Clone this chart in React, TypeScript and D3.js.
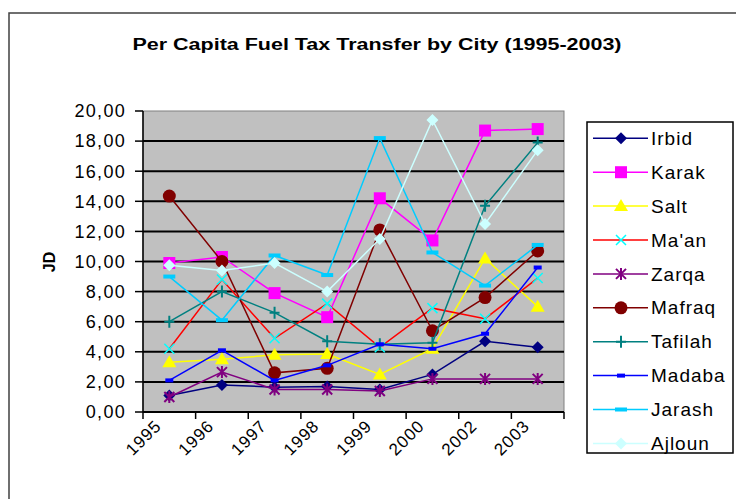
import React from "react";
import * as d3 from "d3";

const years = ["1995", "1996", "1997", "1998", "1999", "2000", "2002", "2003"];
const yTicks = [0, 2, 4, 6, 8, 10, 12, 14, 16, 18, 20];

const irbid = [1.1, 1.8, 1.65, 1.7, 1.5, 2.5, 4.7, 4.3];
const karak = [9.9, 10.3, 7.9, 6.3, 14.2, 11.4, 18.7, 18.8];
const salt = [3.3, 3.5, 3.8, 3.85, 2.5, 4.2, 10.2, 7.0];
const maan = [4.2, 8.8, 4.9, 7.2, 4.3, 6.9, 6.2, 8.9];
const zarqa = [1.0, 2.65, 1.5, 1.5, 1.4, 2.2, 2.2, 2.2];
const mafraq = [14.35, 10.0, 2.6, 2.9, 12.1, 5.4, 7.6, 10.7];
const tafilah = [6.0, 8.0, 6.6, 4.7, 4.5, 4.6, 13.7, 17.9];
const madaba = [2.1, 4.1, 2.1, 3.1, 4.5, 4.2, 5.2, 9.6];
const jarash = [9.0, 6.1, 10.4, 9.1, 18.2, 10.6, 8.4, 11.1];
const ajloun = [9.75, 9.4, 9.9, 8.0, 11.5, 19.4, 12.5, 17.4];

const names = ["Irbid", "Karak", "Salt", "Ma'an", "Zarqa", "Mafraq", "Tafilah", "Madaba", "Jarash", "Ajloun"];
const lineColors = ["#000080", "#ff00ff", "#ffff00", "#ff0000", "#800080", "#800000", "#008080", "#0000ff", "#00ccff", "#ccffff"];
const markerColors = ["#000080", "#ff00ff", "#ffff00", "#00ffff", "#800080", "#800000", "#008080", "#0000ff", "#00ccff", "#ccffff"];
const markerTypes = ["diamond", "square", "triangle", "x", "star", "circle", "plus", "dash", "bar", "diamond"];
const seriesValues = [irbid, karak, salt, maan, zarqa, mafraq, tafilah, madaba, jarash, ajloun];

const FONT = "'Liberation Sans', Arial, sans-serif";

function Marker({ type, x, y, color }: { type: string; x: number; y: number; color: string }) {
  switch (type) {
    case "diamond":
      return <path d={`M${x},${y - 6}L${x + 6},${y}L${x},${y + 6}L${x - 6},${y}Z`} fill={color} />;
    case "square":
      return <rect x={x - 6} y={y - 6} width={12} height={12} fill={color} />;
    case "triangle":
      return <path d={`M${x},${y - 7}L${x + 7},${y + 5}L${x - 7},${y + 5}Z`} fill={color} />;
    case "x":
      return (
        <path d={`M${x - 5},${y - 5}L${x + 5},${y + 5}M${x + 5},${y - 5}L${x - 5},${y + 5}`} stroke={color} strokeWidth={1.5} />
      );
    case "star":
      return (
        <path
          d={`M${x - 5},${y - 5}L${x + 5},${y + 5}M${x + 5},${y - 5}L${x - 5},${y + 5}M${x},${y - 6}L${x},${y + 6}`}
          stroke={color}
          strokeWidth={2}
        />
      );
    case "circle":
      return <circle cx={x} cy={y} r={6.5} fill={color} />;
    case "plus":
      return <path d={`M${x - 5},${y}L${x + 5},${y}M${x},${y - 6}L${x},${y + 6}`} stroke={color} strokeWidth={2} />;
    case "dash":
      return <rect x={x - 4} y={y - 2} width={8} height={4} fill={color} />;
    case "bar":
      return <rect x={x - 6} y={y - 2} width={12} height={4} fill={color} />;
    default:
      return null;
  }
}

export default function App() {
  const left = 143, right = 564, top = 111, bottom = 412;
  const x = d3.scaleBand<string>().domain(years).range([left, right]);
  const y = d3.scaleLinear().domain([0, 20]).range([bottom, top]);
  const line = d3
    .line<number>()
    .x((_, i) => (x(years[i]) as number) + x.bandwidth() / 2)
    .y((d) => y(d));

  const legendTop = 138.3;
  const legendStep = 33.9;

  return (
    <svg
      width={736}
      height={499}
      style={{ position: "absolute", left: 0, top: 0, display: "block", background: "#fff" }}
      fontFamily={FONT}
    >
      <rect x={9} y={13} width={740} height={500} fill="#fff" stroke="#404040" strokeWidth={1.5} />
      <text
        x={377}
        y={50}
        textAnchor="middle"
        fontSize={16}
        fontWeight="bold"
        textLength={489}
        lengthAdjust="spacingAndGlyphs"
      >
        Per Capita Fuel Tax Transfer by City (1995-2003)
      </text>

      {/* plot area */}
      <rect x={left} y={top} width={right - left} height={bottom - top} fill="#c0c0c0" stroke="#808080" strokeWidth={1} />
      {yTicks.map((t) => (
        <line key={"g" + t} x1={left} x2={right} y1={y(t)} y2={y(t)} stroke="#000" strokeWidth={t === 20 ? 0 : 2} />
      ))}
      {/* axes */}
      <line x1={left} x2={left} y1={top} y2={bottom} stroke="#000" strokeWidth={1.5} />
      <line x1={left} x2={right} y1={bottom} y2={bottom} stroke="#000" strokeWidth={1.5} />
      {yTicks.map((t) => (
        <g key={"t" + t}>
          <line x1={left - 8} x2={left} y1={y(t)} y2={y(t)} stroke="#000" strokeWidth={1.5} />
          <text x={126} y={y(t)} dy="0.35em" textAnchor="end" fontSize={18} letterSpacing={1.3} fill="#000">
            {d3.format(".2f")(t).replace(".", ",")}
          </text>
        </g>
      ))}
      {[...years.map((yr) => x(yr) as number), right].map((px, i) => (
        <line key={"xt" + i} x1={px} x2={px} y1={bottom} y2={bottom + 7} stroke="#000" strokeWidth={1.5} />
      ))}
      {years.map((yr) => {
        const cx = (x(yr) as number) + x.bandwidth() / 2;
        return (
          <text
            key={"xl" + yr}
            transform={`translate(${cx - 7},${427}) rotate(-45)`}
            textAnchor="end"
            fontSize={17}
            letterSpacing={1}
            fill="#000"
          >
            {yr}
          </text>
        );
      })}
      <text transform="translate(55,262) rotate(-90)" textAnchor="middle" fontSize={16} fontWeight="bold">
        JD
      </text>

      {/* series */}
      {seriesValues.map((vals, si) => (
        <g key={"s" + si}>
          <path d={line(vals) as string} fill="none" stroke={lineColors[si]} strokeWidth={1.5} />
          {vals.map((v, i) => (
            <Marker
              key={i}
              type={markerTypes[si]}
              x={(x(years[i]) as number) + x.bandwidth() / 2}
              y={y(v)}
              color={markerColors[si]}
            />
          ))}
        </g>
      ))}

      {/* legend */}
      <rect x={587} y={122} width={146} height={331} fill="#fff" stroke="#000" strokeWidth={1.5} />
      {names.map((n, i) => {
        const ly = legendTop + i * legendStep;
        return (
          <g key={"lg" + n}>
            <line x1={593} x2={648} y1={ly} y2={ly} stroke={lineColors[i]} strokeWidth={1.5} />
            <Marker type={markerTypes[i]} x={621} y={ly} color={markerColors[i]} />
            <text x={651} y={ly} dy="0.35em" fontSize={19} letterSpacing={1} fill="#000">
              {n}
            </text>
          </g>
        );
      })}
    </svg>
  );
}
